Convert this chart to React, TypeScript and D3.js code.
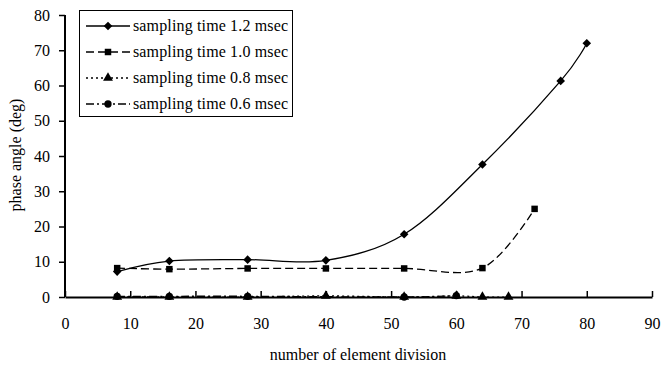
import React, { useEffect, useRef } from 'react';
import * as d3 from 'd3';

// values
const xs12 = [8, 16, 28, 40, 52, 64, 76, 80];
const ys12 = [7.2, 10.2, 10.6, 10.4, 17.8, 37.6, 61.3, 72];
const xs10 = [8, 16, 28, 40, 52, 64, 72];
const ys10 = [8.2, 7.9, 8.1, 8.1, 8.1, 8.2, 25];
const xs08 = [8, 16, 28, 40, 52, 60, 64, 68];
const ys08 = [0, 0, 0, 0.3, 0, 0.3, 0, 0];
const xs06 = [8, 16, 28, 52, 60];
const ys06 = [0.2, 0.2, 0.2, 0, 0.4];
const seriesNames = [
  'sampling time 1.2 msec',
  'sampling time 1.0 msec',
  'sampling time 0.8 msec',
  'sampling time 0.6 msec',
];
const xTicks = [0, 10, 20, 30, 40, 50, 60, 70, 80, 90];
const yTicks = [0, 10, 20, 30, 40, 50, 60, 70, 80];

const App = () => {
  const svgRef = useRef<SVGSVGElement>(null);

  useEffect(() => {
    const svg = d3.select(svgRef.current);
    svg.selectAll('*').remove();

    const x = d3.scaleLinear().domain([0, 90]).range([65, 652]);
    const y = d3.scaleLinear().domain([0, 80]).range([297, 15]);
    const font = '"Liberation Serif", "Times New Roman", serif';

    // y axis
    const yAxis = svg.append('g')
      .attr('transform', 'translate(65,0)')
      .call(d3.axisLeft(y).tickValues(yTicks).tickSize(6).tickSizeOuter(0).tickPadding(9));
    yAxis.select('.domain').attr('stroke-width', 2).attr('d', `M0,${y(80)}V${y(0)}`);
    yAxis.selectAll('.tick line').attr('stroke-width', 1.5);
    yAxis.selectAll('text').attr('font-family', font).attr('font-size', 16).attr('fill', '#000');

    // x axis, ticks pointing inward
    const xAxis = svg.append('g')
      .attr('transform', 'translate(0,297)')
      .call(d3.axisBottom(x).tickValues(xTicks).tickSize(-6).tickSizeOuter(0).tickPadding(21));
    xAxis.select('.domain').attr('stroke-width', 2);
    xAxis.selectAll('.tick line').attr('stroke-width', 1.5);
    xAxis.selectAll('text').attr('font-family', font).attr('font-size', 16).attr('fill', '#000');

    svg.append('text')
      .attr('x', 358).attr('y', 360)
      .attr('text-anchor', 'middle')
      .attr('font-family', font).attr('font-size', 16)
      .text('number of element division');

    svg.append('text')
      .attr('transform', 'translate(21,155) rotate(-90)')
      .attr('text-anchor', 'middle')
      .attr('font-family', font).attr('font-size', 16)
      .text('phase angle (deg)');

    const series = [
      { xs: xs12, ys: ys12, dash: null, marker: 'diamond' },
      { xs: xs10, ys: ys10, dash: '8,4', marker: 'square' },
      { xs: xs08, ys: ys08, dash: '2,3', marker: 'triangle' },
      { xs: xs06, ys: ys06, dash: '8,3,2,3', marker: 'circle' },
    ];

    const line = d3.line<[number, number]>()
      .x(d => x(d[0]))
      .y(d => y(d[1]))
      .curve(d3.curveCardinal.tension(0));

    const symbolOf = (m: string) => {
      if (m === 'diamond') return 'M0,-4.3L4.3,0L0,4.3L-4.3,0Z';
      if (m === 'square') return d3.symbol().type(d3.symbolSquare).size(42)();
      if (m === 'triangle') return d3.symbol().type(d3.symbolTriangle).size(42)();
      return d3.symbol().type(d3.symbolCircle).size(42)();
    };

    series.forEach(s => {
      const pts = s.xs.map((v, i) => [v, s.ys[i]] as [number, number]);
      svg.append('path')
        .attr('d', line(pts))
        .attr('fill', 'none')
        .attr('stroke', '#000')
        .attr('stroke-width', 1.3)
        .attr('stroke-dasharray', s.dash);
      svg.selectAll(null)
        .data(pts)
        .enter()
        .append('path')
        .attr('transform', d => `translate(${x(d[0])},${y(d[1])})`)
        .attr('d', symbolOf(s.marker))
        .attr('fill', '#000');
    });

    // legend
    const legend = svg.append('g');
    legend.append('rect')
      .attr('x', 79.5).attr('y', 10.5)
      .attr('width', 213).attr('height', 106)
      .attr('fill', '#fff').attr('stroke', '#000').attr('stroke-width', 1);
    series.forEach((s, i) => {
      const ly = 26 + i * 26;
      legend.append('line')
        .attr('x1', 86).attr('x2', 130).attr('y1', ly).attr('y2', ly)
        .attr('stroke', '#000').attr('stroke-width', 1.3)
        .attr('stroke-dasharray', s.dash);
      legend.append('path')
        .attr('transform', `translate(108,${ly})`)
        .attr('d', symbolOf(s.marker))
        .attr('fill', '#000');
      legend.append('text')
        .attr('x', 133).attr('y', ly + 5)
        .attr('font-family', font).attr('font-size', 16)
        .attr('textLength', 155)
        .text(seriesNames[i]);
    });
  }, []);

  return (
    <svg
      ref={svgRef}
      width={661}
      height={365}
      style={{ position: 'fixed', left: 0, top: 0, background: '#fff' }}
    />
  );
};

export default App;
